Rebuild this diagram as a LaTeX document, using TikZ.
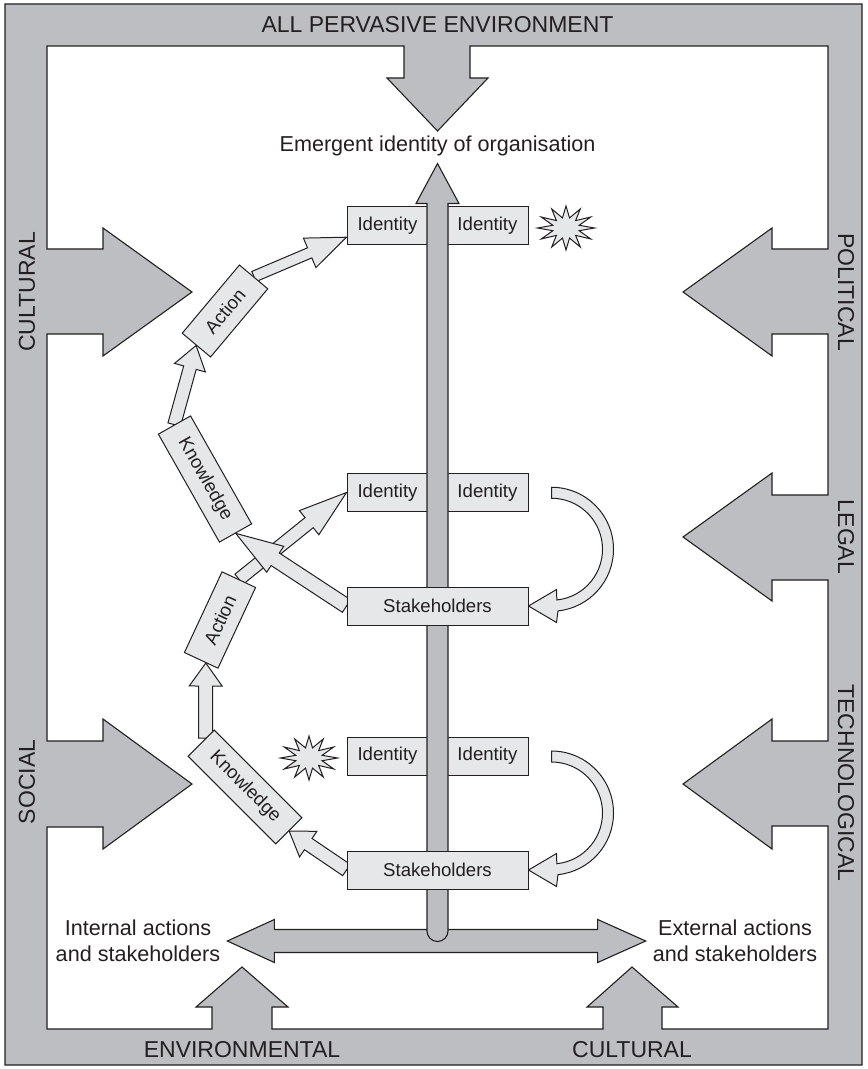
\documentclass[tikz,border=0pt]{standalone}
\usepackage{fontspec}
\setmainfont{Liberation Sans}
\usetikzlibrary{calc,shapes.geometric}

\definecolor{bandgray}{RGB}{189,190,194}
\definecolor{boxgray}{RGB}{230,231,232}
\definecolor{inkgray}{RGB}{35,31,32}

\pgfdeclarelayer{back}
\pgfdeclarelayer{mid}
\pgfsetlayers{back,mid,main}

\tikzset{
  band/.style={fill=bandgray, draw=inkgray, line width=0.55pt},
  flow/.style={fill=boxgray, draw=inkgray, line width=0.5pt},
  panel/.style={fill=boxgray, draw=inkgray, line width=0.5pt, inner sep=0pt, text=inkgray, font=\fontsize{9.3}{11}\selectfont},
  idbox/.style={panel, minimum width=90.5pt, minimum height=19pt},
  tiltbox/.style={panel, minimum height=18.5pt},
  sidelabel/.style={font=\fontsize{11.5}{13}\selectfont, text=inkgray},
  note/.style={font=\fontsize{10.8}{13}\selectfont, text=inkgray, align=center},
  burst/.style={star, star points=12, star point ratio=2.1, minimum size=22pt, xscale=1.3, draw=inkgray, fill=boxgray, line width=0.5pt, inner sep=0pt}
}

% block arrow: tail, tip, stem half width, head half width, head length
\newcommand{\flowarrow}[5]{%
  \path[flow] let \p1=($(#2)-(#1)$), \n1={atan2(\y1,\x1)}, \n2={veclen(\x1,\y1)-#5} in
    ($(#1)+(\n1+90:#3)$) -- ($(#1)+(\n1:\n2)+(\n1+90:#3)$)
    -- ($(#1)+(\n1:\n2)+(\n1+90:#4)$) -- (#2)
    -- ($(#1)+(\n1:\n2)+(\n1-90:#4)$) -- ($(#1)+(\n1:\n2)+(\n1-90:#3)$)
    -- ($(#1)+(\n1-90:#3)$) -- cycle;}

% half round arrow from an identity box back to its stakeholders box
\newcommand{\loopback}[2]{%
  \coordinate (c) at ($($(#1.east)!0.5!(#2.east)$)+(23,0)$);
  \draw[flow] ($(c)+(90:31pt)$) arc[start angle=90, end angle=-84, radius=31pt]
    -- ($(#2.east)+(28,16.5)$) -- (#2.east) -- ($(#2.east)+(28,-16.5)$)
    -- ($(c)+(-84:25.5pt)$) arc[start angle=-84, end angle=90, radius=25.5pt] -- cycle;}

\begin{document}
\begin{tikzpicture}[x=0.5pt, y=-0.5pt]
\useasboundingbox (0,0) rectangle (867,1069);

\begin{pgfonlayer}{back}
\draw[band, even odd rule] (5,4) rectangle (862,1065)
  (47,46) -- (404,46) -- (404,78) -- (387,78) -- (437.5,131) -- (488,78) -- (470,78) -- (470,46)
  -- (828,46) -- (828,249) -- (772,249) -- (772,228) -- (683,292) -- (772,356) -- (772,334) -- (828,334)
  -- (828,495) -- (772,495) -- (772,473) -- (683,537) -- (772,601) -- (772,580) -- (828,580)
  -- (828,741) -- (772,741) -- (772,719) -- (683,784) -- (772,849) -- (772,826) -- (828,826)
  -- (828,1029) -- (662,1029) -- (662,1007) -- (678,1007) -- (632,967) -- (587,1007) -- (603,1007) -- (603,1029)
  -- (272,1029) -- (272,1007) -- (288,1007) -- (242,967) -- (196,1007) -- (212,1007) -- (212,1029)
  -- (47,1029) -- (47,827) -- (103,827) -- (103,849) -- (192,784) -- (103,719) -- (103,741) -- (47,741)
  -- (47,334) -- (103,334) -- (103,356) -- (192,292) -- (103,228) -- (103,249) -- (47,249) -- cycle;
\end{pgfonlayer}

\node[sidelabel] (top) at (437.5,25) {ALL PERVASIVE ENVIRONMENT};
\node[sidelabel, rotate=90] (cul) at (27,292) {CULTURAL};
\node[sidelabel, rotate=90] (soc) at (27,782) {SOCIAL};
\node[sidelabel, rotate=-90] (pol) at (846,292) {POLITICAL};
\node[sidelabel, rotate=-90] (leg) at (846,537) {LEGAL};
\node[sidelabel, rotate=-90] (tec) at (846,783) {TECHNOLOGICAL};
\node[sidelabel] (env) at (242,1050) {ENVIRONMENTAL};
\node[sidelabel] (cub) at (632,1050) {CULTURAL};

\node[note, anchor=base] (E) at (437.5,152) {Emergent identity of organisation};
\node[note] (IntL) at (138,941) {Internal actions\\and stakeholders};
\node[note] (ExtR) at (735,941) {External actions\\and stakeholders};

\begin{pgfonlayer}{back}
\draw[band] (IntL.east) -- ($(IntL.east)+(47,-21.5)$) -- ($(IntL.east)+(47,-11.5)$)
  -- ($(ExtR.west)+(-48,-11.5)$) -- ($(ExtR.west)+(-48,-21.5)$) -- (ExtR.west)
  -- ($(ExtR.west)+(-48,21.5)$) -- ($(ExtR.west)+(-48,11.5)$)
  -- ($(IntL.east)+(47,11.5)$) -- ($(IntL.east)+(47,21.5)$) -- cycle;
\end{pgfonlayer}

\node[idbox] (I1) at (437.5,225.5) {Identity\hspace{20pt}Identity};
\node[idbox] (I2) at (437.5,492.5) {Identity\hspace{20pt}Identity};
\node[idbox] (I3) at (437.5,756) {Identity\hspace{20pt}Identity};

\coordinate (V) at (437.5,931);
\draw[band] ($(V)+(-10.5,0)$) -- ($(E.south)+(-10.5,40)$) -- ($(E.south)+(-21.5,40)$) -- (E.south)
  -- ($(E.south)+(21.5,40)$) -- ($(E.south)+(10.5,40)$) -- ($(V)+(10.5,0)$)
  arc[start angle=0, end angle=-180, radius=5.25pt] -- cycle;

\node[idbox] (S1) at (437.5,606) {Stakeholders};
\node[idbox] (S2) at (437.5,870) {Stakeholders};

\node[tiltbox, minimum width=62pt, rotate=-60.5] (K2) at (205,479) {Knowledge};
\node[tiltbox, minimum width=44.5pt, rotate=50] (A2) at (225,311) {Action};
\node[tiltbox, minimum width=62pt, rotate=-45] (K1) at (245,787) {Knowledge};
\node[tiltbox, minimum width=44.5pt, rotate=65] (A1) at (220,620) {Action};

\node[burst] (B1) at (566,228) {};
\node[burst] (B2) at (309,758) {};

\begin{pgfonlayer}{mid}
\coordinate (K1up) at ($(K1.west)!0.35!(K1.north west)$);
\coordinate (A1in) at ($(A1.west)!0.28!(A1.south west)$);
\coordinate (I1in) at ($(I1.west)!0.6!(I1.south west)$);
\flowarrow{S2.west}{K1.east}{3.4pt}{7.75pt}{11.5pt}
\flowarrow{K1up}{A1in}{3.5pt}{8.25pt}{11.5pt}
\flowarrow{A1.east}{I2.west}{3.25pt}{7.75pt}{24pt}
\flowarrow{S1.west}{K2.east}{3.75pt}{7.75pt}{23.5pt}
\flowarrow{K2.west}{A2.west}{3.25pt}{8pt}{11.5pt}
\flowarrow{A2.east}{I1in}{2.75pt}{8pt}{20pt}
\loopback{I2}{S1}
\loopback{I3}{S2}
\end{pgfonlayer}

\end{tikzpicture}
\end{document}
